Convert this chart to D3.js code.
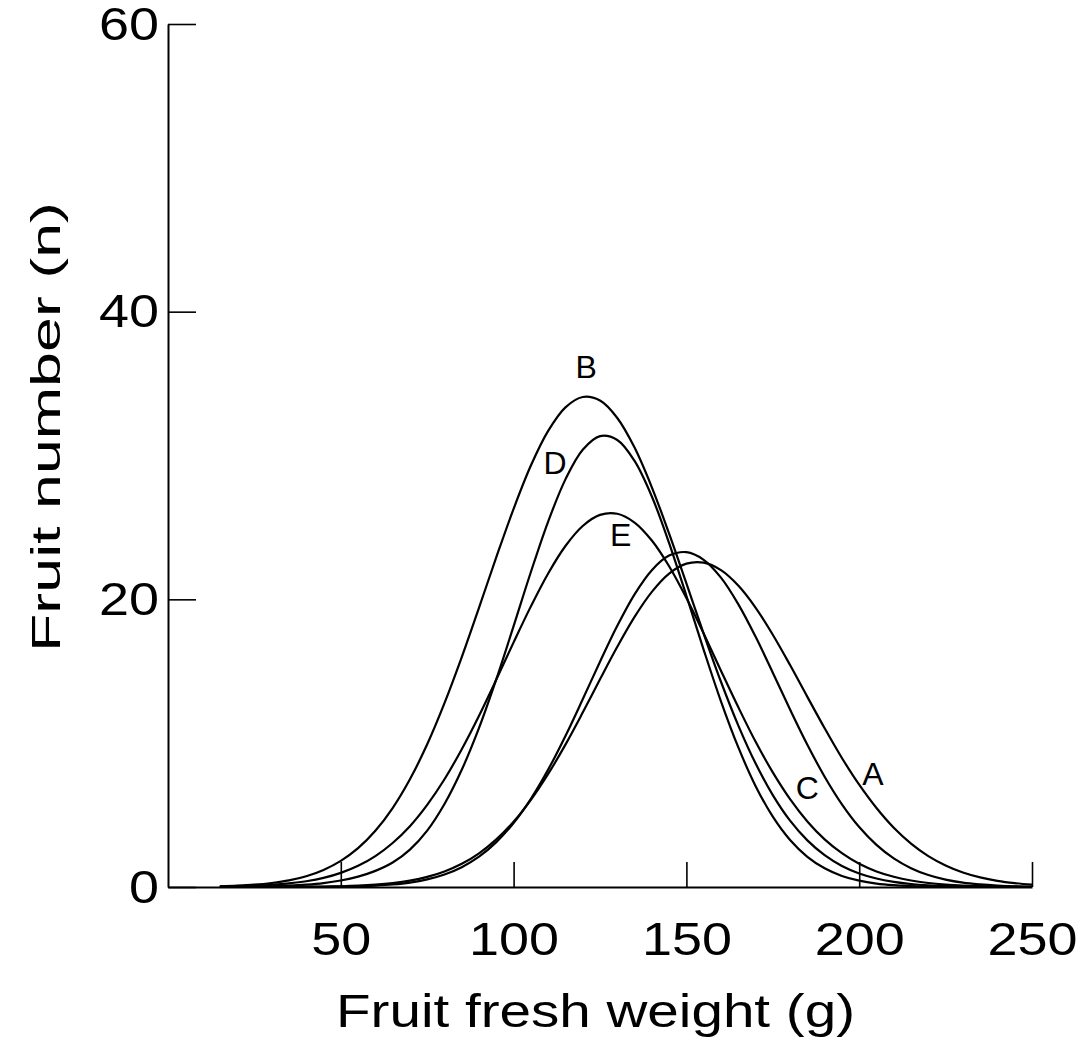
<!DOCTYPE html>
<html>
<head>
<meta charset="utf-8">
<script src="https://cdn.jsdelivr.net/npm/d3@7/dist/d3.min.js"></script>
<style>
  html, body { margin: 0; padding: 0; background: #fff; }
  svg { display: block; }
  text { font-family: "Liberation Sans", Arial, sans-serif; fill: #000; }
</style>
</head>
<body>
<svg id="chart" width="1088" height="1050"></svg>
<script>
// Fruit fresh weight classes (g), sampled every 5 g
const weights = [15,20,25,30,35,40,45,50,55,60,65,70,75,80,85,90,95,100,105,110,115,120,125,130,
  135,140,145,150,155,160,165,170,175,180,185,190,195,200,205,210,215,220,225,230,235,240,245,250];

// Fitted fruit-number distributions per treatment
const seriesA = [0,0,0,0,0.01,0.02,0.03,0.05,0.09,0.16,0.27,0.44,0.70,1.08,1.61,2.34,3.31,4.54,6.06,7.86,9.90,12.13,14.44,16.70,
  18.78,20.52,21.79,22.48,22.55,22.03,20.96,19.43,17.54,15.43,13.22,11.04,8.97,7.11,5.49,4.12,3.02,2.15,1.50,1.01,0.67,0.43,0.27,0.16];
const seriesB = [0.05,0.09,0.16,0.28,0.46,0.75,1.19,1.82,2.70,3.91,5.49,7.49,9.92,12.78,15.98,19.42,22.93,26.29,29.30,31.71,33.35,34.07,33.82,32.61,
  30.55,27.79,24.57,21.11,17.61,14.27,11.24,8.60,6.39,4.61,3.24,2.21,1.46,0.94,0.59,0.36,0.21,0.12,0.07,0.04,0.02,0.01,0.01,0];
const seriesC = [0,0,0,0,0,0.01,0.01,0.03,0.05,0.10,0.18,0.31,0.53,0.87,1.38,2.11,3.12,4.45,6.13,8.16,10.50,13.05,15.66,18.16,
  20.35,22.03,23.04,23.28,22.75,21.51,19.67,17.41,14.90,12.34,9.89,7.67,5.75,4.17,2.93,1.99,1.31,0.83,0.51,0.30,0.18,0.10,0.05,0.03];
const seriesD = [0.01,0.02,0.03,0.05,0.09,0.16,0.27,0.45,0.72,1.12,1.70,2.60,3.92,5.77,8.15,11.06,14.45,18.14,21.90,25.41,28.34,30.40,31.35,31.08,
  29.62,27.15,23.91,20.25,16.49,12.91,9.72,7.03,4.89,3.27,2.10,1.30,0.77,0.44,0.24,0.13,0.07,0.03,0.02,0.01,0,0,0,0];
const seriesE = [0.03,0.05,0.09,0.15,0.25,0.40,0.63,0.98,1.47,2.15,3.06,4.23,5.71,7.49,9.58,11.91,14.42,17.01,19.51,21.80,23.71,25.10,25.87,25.95,
  25.34,24.09,22.30,20.09,17.62,15.04,12.51,10.11,7.97,6.11,4.56,3.31,2.35,1.61,1.08,0.71,0.45,0.28,0.17,0.10,0.06,0.03,0.02,0.01];

const seriesNames = ["A","B","C","D","E"];
const seriesValues = [seriesA, seriesB, seriesC, seriesD, seriesE];

// Curve labels and the point (weight, number) each one sits at
const labelNames = ["B","D","E","C","A"];
const labelX = [121, 112, 131, 185, 204];
const labelY = [36.2, 29.5, 24.5, 6.9, 7.9];

const xTicks = [50,100,150,200,250];
const yTicks = [0,20,40,60];

const svg = d3.select("#chart");

const x = d3.scaleLinear().domain([0, 250]).range([168, 1032]);
const y = d3.scaleLinear().domain([0, 60]).range([887, 24]);

// Axes with inward ticks
const xAxis = svg.append("g")
  .attr("transform", `translate(0,${y(0)})`)
  .call(d3.axisBottom(x).tickValues(xTicks).tickFormat(d3.format("d"))
    .tickSizeInner(-25).tickSizeOuter(0).tickPadding(32));
const yAxis = svg.append("g")
  .attr("transform", `translate(${x(0)},0)`)
  .call(d3.axisLeft(y).tickValues(yTicks).tickFormat(d3.format("d"))
    .tickSizeInner(-28).tickSizeOuter(0).tickPadding(9));

[xAxis, yAxis].forEach(g => {
  g.select(".domain").attr("stroke", "#000").attr("stroke-width", 2);
  g.selectAll(".tick line").attr("stroke", "#000").attr("stroke-width", 1.6);
  g.selectAll(".tick text").attr("font-size", 47)
    .attr("font-family", "'Liberation Sans', Arial, sans-serif").attr("fill", "#000")
    .attr("lengthAdjust", "spacingAndGlyphs")
    .attr("textLength", d => String(d).length * 30);
});
xAxis.selectAll(".tick text").attr("dy", "0.71em").attr("y", 35);

// Distribution curves
const line = d3.line()
  .x((d, i) => x(weights[i]))
  .y(d => y(d))
  .curve(d3.curveCatmullRom.alpha(0.5));

svg.append("g").selectAll("path")
  .data(seriesValues)
  .join("path")
  .attr("d", d => line(d))
  .attr("fill", "none")
  .attr("stroke", "#000")
  .attr("stroke-width", 2.2);

// Curve labels
svg.append("g").selectAll("text")
  .data(labelNames)
  .join("text")
  .attr("x", (d, i) => x(labelX[i]))
  .attr("y", (d, i) => y(labelY[i]))
  .attr("text-anchor", "middle")
  .attr("dy", "0.36em")
  .attr("font-size", 32)
  .text(d => d);

// Axis titles
svg.append("text")
  .attr("x", 336).attr("y", 1027)
  .attr("font-size", 47)
  .attr("lengthAdjust", "spacingAndGlyphs")
  .attr("textLength", 519)
  .text("Fruit fresh weight (g)");

svg.append("text")
  .attr("transform", "translate(60,652) rotate(-90)")
  .attr("font-size", 40)
  .attr("lengthAdjust", "spacingAndGlyphs")
  .attr("textLength", 450)
  .text("Fruit number (n)");
</script>
</body>
</html>
